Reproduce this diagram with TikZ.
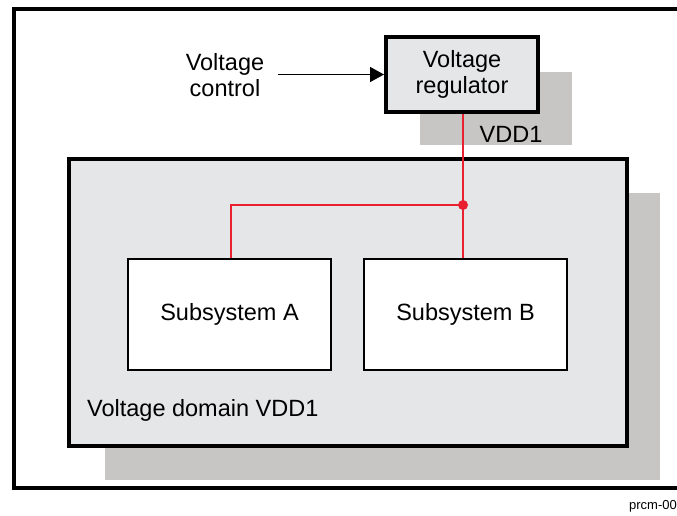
\documentclass[tikz,border=0pt]{standalone}
\usepackage{fontspec}
\setmainfont{Liberation Sans}
\usepackage{xcolor}
\usepackage{tikz}
\usetikzlibrary{positioning, arrows.meta, calc}
\definecolor{paneground}{HTML}{E5E6E8}
\definecolor{shadowgray}{HTML}{C7C6C4}
\definecolor{wirered}{HTML}{E8202F}

\begin{document}
\begin{tikzpicture}[x=1pt, y=-1pt,
    every node/.style={font=\fontsize{23.5}{27}\selectfont},
    subbox/.style={draw=black, line width=2pt, fill=white, minimum width=203pt, minimum height=111pt},
    wire/.style={draw=wirered, line width=1.6pt}]
    \useasboundingbox (0,0) rectangle (677,515);

    % outer frame, cut off at the right
    \draw[line width=4pt] (677,9) -| (14,488) -- (677,488);

    % shadows
    \fill[shadowgray] (105,193) rectangle (660,480);
    \fill[shadowgray] (420,72) rectangle (572,145);

    % voltage domain
    \node[fill=paneground, draw=black, line width=4pt, minimum width=558pt, minimum height=287pt] (domain) at (348,302.5) {};
    \node[anchor=west, inner sep=0pt] (domlabel) at (87,410) {Voltage domain VDD1};

    % regulator
    \node[fill=paneground, draw=black, line width=4pt, minimum width=152pt, minimum height=75pt,
          align=center, inner sep=0pt] (reg) at (462,74.5) {Voltage\\[-1pt]regulator};
    \node (vdd) at (511,134) {VDD1};
    \node[align=center, inner sep=0pt] (ctrl) at (225,75) {Voltage\\[-1pt]control};
    \coordinate (ctrlend) at (278,74.5);
    \draw[line width=1.5pt, -{Triangle[length=14pt, width=15pt]}] (ctrlend) -- (reg.west);

    % subsystems
    \node[subbox] (subA) at (229.5,314.5) {Subsystem A};
    \node[subbox] (subB) at (465.5,314.5) {Subsystem B};

    % supply wiring
    \coordinate (jn) at (463,205);
    \coordinate (tapA) at (231,205);
    \draw[wire] (reg.south -| jn) -- (jn) -- (jn |- subB.north);
    \draw[wire] (jn) -- (tapA) -- (tapA |- subA.north);
    \fill[wirered] (jn) circle (5pt);

    \node[anchor=east, font=\fontsize{13}{15}\selectfont, inner sep=0pt] (tag) at (677,506) {prcm-00};
\end{tikzpicture}
\end{document}
